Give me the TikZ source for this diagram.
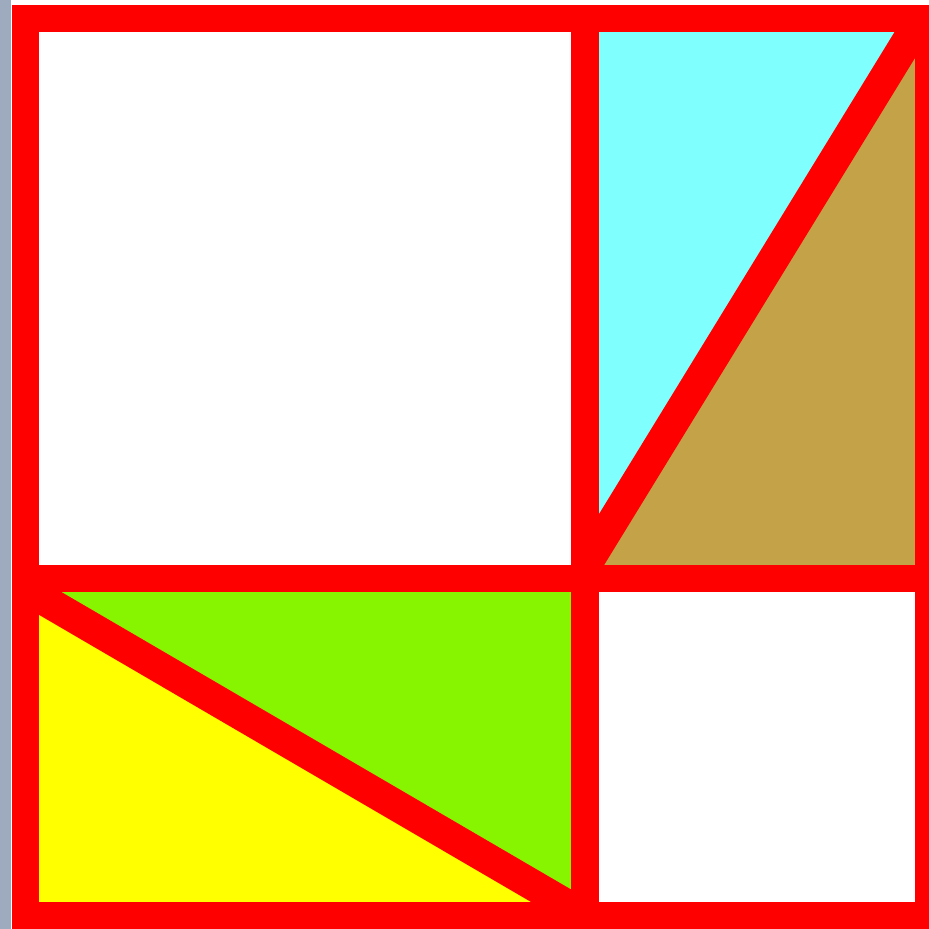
\documentclass[tikz,border=0pt]{standalone}
\usepackage{tikz}
\definecolor{EdgeGray}{RGB}{158,171,190}
\definecolor{SkyCyan}{RGB}{128,255,255}
\definecolor{SandBrown}{RGB}{196,162,72}
\definecolor{LimeGreen}{RGB}{136,245,0}
\definecolor{SunYellow}{RGB}{255,255,0}
\begin{document}
\begin{tikzpicture}[x=0.01cm, y=-0.01cm, frame/.style={draw=red, line width=0.27cm, line join=miter}, slant/.style={draw=red, line width=0.31cm}, patch/.style={draw=none}]
\useasboundingbox (0,0) rectangle (929,929);
\fill[white] (0,0) rectangle (929,929);
\fill[EdgeGray] (0,0) rectangle (11,929);
\clip (0,0) rectangle (929,929);
% corners and crossing points
\coordinate (tl) at (25.5,18.5);
\coordinate (tr) at (928.5,18.5);
\coordinate (br) at (928.5,915.5);
\coordinate (bl) at (25.5,915.5);
\coordinate (top) at (585,18.5);
\coordinate (bot) at (585,915.5);
\coordinate (left) at (25.5,578);
\coordinate (right) at (928.5,578);
\coordinate (mid) at (585,578);
\coordinate (diagfoot) at (578,578);
\coordinate (diaglow) at (570,591);
\coordinate (diagtop) at (921,18.5);
\coordinate (diagleft) at (25.5,589);
% coloured triangles
\fill[patch, SkyCyan] (diagfoot) -- (top) -- (diagtop) -- cycle;
\fill[patch, SandBrown] (diagfoot) -- (diagtop) -- (tr) -- (right) -- cycle;
\fill[patch, LimeGreen] (left) -- (mid) -- (bot) -- (diagleft) -- cycle;
\fill[patch, SunYellow] (diagleft) -- (bot) -- (bl) -- cycle;
% red frame
\draw[frame] (tl) rectangle (br);
\draw[frame] (top) -- (bot);
\draw[frame] (left) -- (right);
\begin{scope}
\clip (571.5,0) rectangle (929,600);
\draw[slant] (diaglow) -- (diagtop);
\end{scope}
\draw[slant] (diagleft) -- (bot);
\end{tikzpicture}
\end{document}
